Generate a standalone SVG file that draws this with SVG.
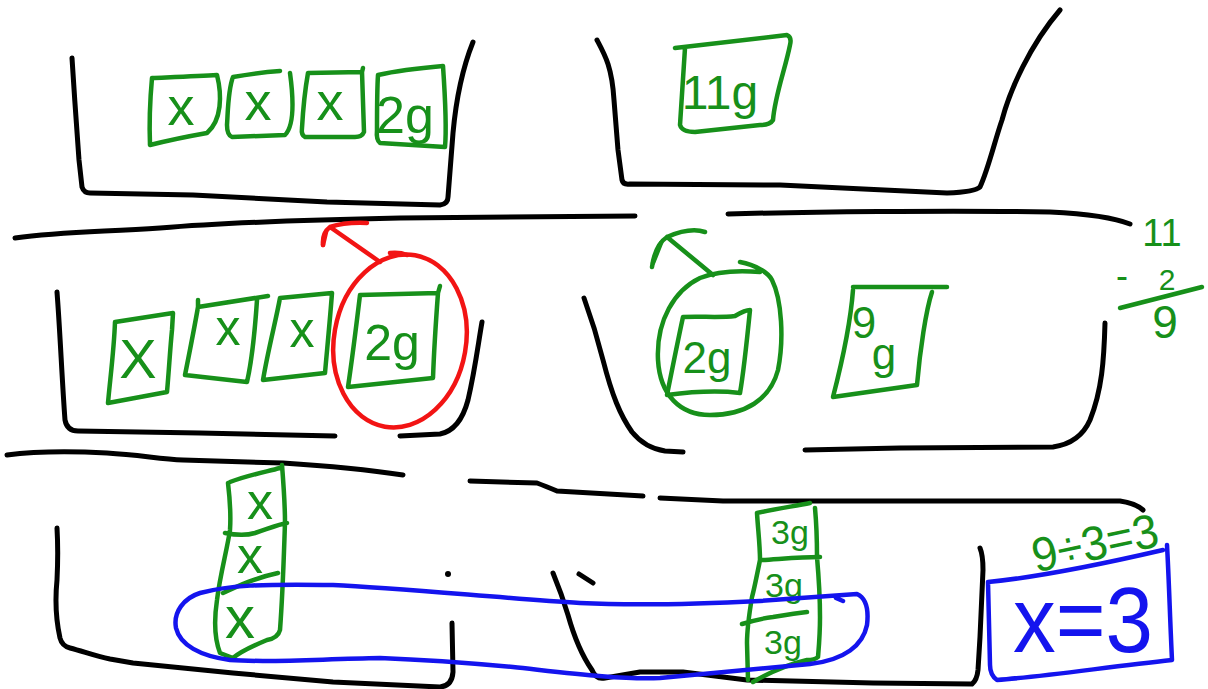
<svg xmlns="http://www.w3.org/2000/svg" width="1208" height="689" viewBox="0 0 1208 689">
<style>
.k{fill:none;stroke:#000;stroke-width:5;stroke-linecap:round;stroke-linejoin:round}
.g{fill:none;stroke:#17901a;stroke-width:4.5;stroke-linecap:round;stroke-linejoin:round}
.b{fill:none;stroke:#1414ee;stroke-width:4.5;stroke-linecap:round;stroke-linejoin:round}
.r{fill:none;stroke:#f21414;stroke-width:4.5;stroke-linecap:round;stroke-linejoin:round}
.t{font-family:"Liberation Sans",Arial,sans-serif;fill:#17901a;text-anchor:middle;dominant-baseline:central}
.tb{font-family:"Liberation Sans",Arial,sans-serif;fill:#1414ee;text-anchor:middle;dominant-baseline:central}
</style>
<rect width="1208" height="689" fill="#fff"/>

<!-- buckets and dividers -->
<g id="scene">
<path class="k" d="M72,58 C74,90 77,133 79,160 L82,187 Q84,193 90,193 L193,195 L327,202 L440,205 Q448,204 448,197 L453,133 C456,100 463,67 473,42"/>
<path class="k" d="M597,40 C605,55 612,67 614,100 L618,150 L622,180 Q623,185 630,184 L780,185 L947,193 Q975,192 980,187 C988,170 995,140 1002,120 C1010,90 1030,45 1060,10"/>
<path class="k" d="M15,238 C60,232 100,232 160,228 C220,223 300,220 400,218 L635,216"/>
<path class="k" d="M728,214 C800,212 950,210 1050,212 C1090,214 1115,218 1130,224"/>
<path class="k" d="M57,292 C60,330 62,380 65,420 Q67,431 78,431 L200,433 L335,436"/>
<path class="k" d="M400,436 L440,434 Q460,430 468,400 C475,370 478,345 482,322"/>
<path class="k" d="M584,298 C592,320 598,340 603,360 C612,395 620,415 632,432 Q645,448 665,451 L683,452"/>
<path class="k" d="M805,450 L900,448 L1053,447 Q1080,443 1090,420 C1102,390 1104,360 1105,323"/>
<path class="k" d="M7,455 C30,452 70,451 107,453 C140,455 160,459 183,460 L283,463 C330,466 370,470 403,475"/>
<path class="k" d="M470,481 L537,483 Q545,486 557,491 L643,496"/>
<path class="k" d="M660,498 L723,501 L1120,501 Q1135,503 1143,510"/>
<path class="k" d="M57,528 C58,545 58,560 57,580 C55,600 56,620 60,638 Q62,646 70,648 C85,652 95,656 110,659 L133,663 L233,673 L333,682 L440,687 Q452,686 453,672 L452,623"/>
<circle cx="448" cy="574" r="3" fill="#000"/>
<path class="k" d="M553,573 C560,590 565,605 568,615 C575,640 585,660 592,670 Q596,680 605,678 L640,672 L683,672 L747,680 L873,683 L972,684 Q977,680 978,670 L980,637 L983,570 Q983,555 980,548"/>
<path class="k" d="M579,574 L593,583"/>
</g>

<!-- row 1 -->
<g id="top-x1"><path class="g" d="M152,78 C175,77 200,76 217,75 C222,95 222,120 207,133 C190,136 170,140 150,145 C149,120 150,100 152,78"/><text class="t" x="181" y="106" font-size="54">x</text></g>
<g id="top-x2"><path class="g" d="M233,77 C250,74 265,72 280,71 M290,73 C293,95 295,125 285,135 L232,137 Q227,135 227,125 C228,110 228,90 233,77"/><text class="t" x="258" y="101" font-size="54">x</text></g>
<g id="top-x3"><path class="g" d="M363,68 L362,72 L308,73 C305,90 303,110 302,128 Q301,135 305,137 L355,137 Q362,137 364,132 L362,72"/><text class="t" x="330" y="101" font-size="54">x</text></g>
<g id="top-2g"><path class="g" d="M378,75 C400,70 420,68 443,66 C445,95 447,125 445,147 L380,143 Q376,140 377,130 C377,110 377,90 378,75"/><text class="t" x="405" y="115" font-size="52">2g</text></g>
<g id="top-11g"><path class="g" d="M675,48 L787,35 Q792,37 790,45 C785,70 775,95 773,120 Q770,125 760,125 L695,132 Q682,132 680,125 L685,48"/><text class="t" x="720" y="92" font-size="48">11g</text></g>

<!-- row 2 -->
<g id="mid-x1"><path class="g" d="M115,322 L173,313 L172,330 C170,350 169,370 167,392 L108,403 C110,380 114,350 115,322"/><text class="t" x="138" y="358" font-size="56">X</text></g>
<g id="mid-x2"><path class="g" d="M198,300 L198,307 L268,296 M257,300 C255,330 252,360 247,382 L185,375 C190,350 194,330 198,307"/><text class="t" x="228" y="328" font-size="50">x</text></g>
<g id="mid-x3"><path class="g" d="M280,298 L332,293 C330,320 327,350 325,373 L263,380 C268,350 276,320 280,298"/><text class="t" x="302" y="330" font-size="50">x</text></g>
<g id="mid-2g-left"><path class="g" d="M360,295 L438,293 L440,286 M438,293 C436,320 434,350 433,378 L348,387 C352,360 357,320 360,295"/><text class="t" x="392" y="343" font-size="50">2g</text></g>
<g id="mid-2g-right"><path class="g" d="M683,317 C700,316 720,318 735,316 Q745,310 750,310 C747,340 744,370 740,393 C715,390 690,392 667,395 C672,370 678,340 683,317"/><text class="t" x="707" y="357" font-size="44">2g</text></g>
<g id="mid-9g"><path class="g" d="M853,287 L947,287 M853,290 C850,330 840,370 833,397 L917,385 C920,350 926,310 932,292"/><text class="t" x="864" y="322" font-size="44">9</text><text class="t" x="884" y="353" font-size="44">g</text></g>
<g id="fraction"><text class="t" x="1162" y="233" font-size="38">11</text><text class="t" x="1122" y="275" font-size="36">-</text><text class="t" x="1167" y="279" font-size="30">2</text><path class="g" d="M1120,308 L1202,287"/><text class="t" x="1165" y="322" font-size="46">9</text></g>

<!-- row 3 -->
<g id="stack-x"><path class="g" d="M230,482 C245,476 265,472 280,468 M282,465 C284,490 285,510 285,523 C284,550 283,590 280,630 Q278,638 267,640 C255,645 240,652 233,658 M228,483 C230,500 231,515 230,530 C227,550 220,575 217,600 C214,620 215,640 220,653 L233,658 M225,533 C235,535 245,536 255,533 C270,528 280,524 287,523 M223,593 C240,585 255,578 278,573"/><text class="t" x="260" y="501" font-size="52">x</text><text class="t" x="250" y="555" font-size="52">x</text><text class="t" x="240" y="617" font-size="60">x</text></g>
<g id="stack-3g"><path class="g" d="M757,513 C775,509 795,506 810,503 M815,508 C817,530 817,545 817,557 C819,580 820,600 820,617 C820,635 819,645 818,657 Q815,660 807,660 C790,664 770,672 753,682 M757,513 C758,530 760,545 760,560 C757,575 754,590 752,597 C749,615 747,630 747,643 L748,680 M762,560 C780,559 800,557 820,557 M742,624 C755,620 765,618 773,617 C785,615 797,613 807,612"/><text class="t" x="790" y="532" font-size="34">3g</text><text class="t" x="784" y="585" font-size="34">3g</text><text class="t" x="783" y="642" font-size="34">3g</text></g>
<g id="loop"><path class="b" d="M200,593 C230,585 260,584 333,585 C400,588 500,598 580,603 C640,606 700,604 760,601 C800,598 830,596 857,594 Q870,600 867,625 C863,645 845,660 810,664 C770,668 720,672 660,678 C620,680 560,672 513,667 C480,664 430,660 380,658 C320,659 270,663 230,660 C200,656 180,645 176,628 C173,612 184,598 200,593 Z M836,598 L843,601"/></g>
<g id="answer"><text class="t" x="1095" y="543" font-size="48" transform="rotate(-12 1095 543)" textLength="128" lengthAdjust="spacingAndGlyphs">9÷3=3</text><path class="b" d="M988,582 C1040,577 1107,563 1163,550 M1167,545 C1169,580 1170,620 1172,660 C1107,667 1040,677 997,680 Q990,675 990,665 L988,582"/><text class="tb" x="1083" y="620" font-size="92" textLength="140" lengthAdjust="spacingAndGlyphs">x=3</text></g>

<!-- connectors -->
<g id="connectors">
<ellipse class="r" cx="400" cy="341" rx="66" ry="87" transform="rotate(10 400 341)"/>
<path class="r" d="M390,253 Q400,252 407,255"/>
<path class="r" d="M380,262 L330,227 M323,245 Q322,233 330,227 Q345,222 367,223"/>
<path class="r" d="M323,245 L326,232" stroke-width="7"/>
<path class="g" d="M740,262 C755,265 768,272 772,280 C782,300 784,340 778,370 C770,400 745,415 710,415 C680,415 660,395 658,360 C656,320 675,290 700,278 C715,272 735,270 760,272"/>
<path class="g" d="M713,275 L667,237 M652,267 Q655,245 667,237 Q690,227 705,232"/>
<path class="g" d="M653,263 L661,243" stroke-width="8"/>
</g>
</svg>
